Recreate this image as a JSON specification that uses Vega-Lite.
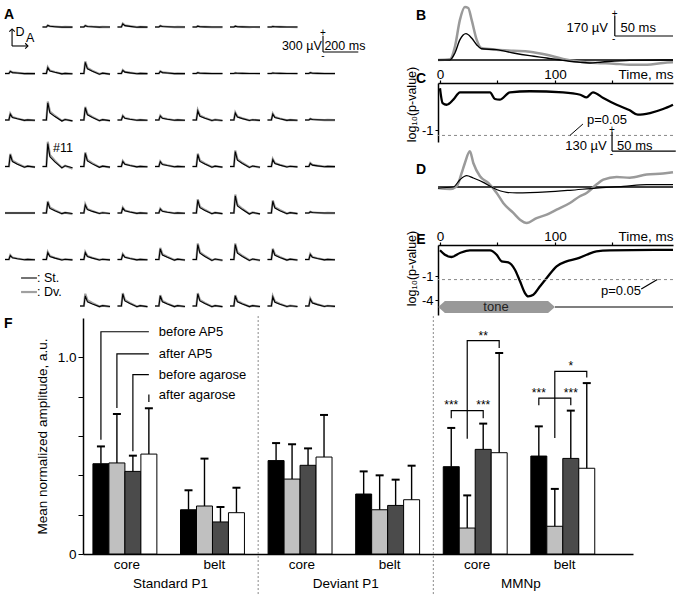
{
"$schema": "https://vega.github.io/schema/vega-lite/v6.json",
"padding": {"left": 0, "top": 2, "right": 0, "bottom": 0},
"config": {
  "font": "Liberation Sans",
  "view": {"stroke": null},
  "axis": {"domainColor": "#000", "tickColor": "#000", "labelColor": "#000", "titleColor": "#000", "grid": false, "titleFontWeight": "normal"},
  "text": {"font": "Liberation Sans", "color": "#000"}
},
"datasets": {
  "a": [
    {"k":"tr","s":"St","r":1,"c":2,"t":[0,22,30,42,70,110,128,170],"v":[0,0,30,13,6,-2,1,-2]},
    {"k":"tr","s":"St","r":1,"c":3,"t":[0,22,30,42,70,110,128,170],"v":[0,0,25,10,5,-2,1,-1]},
    {"k":"tr","s":"St","r":1,"c":4,"t":[0,22,30,42,70,110,128,170],"v":[0,0,60,25,12,-4,2,-3]},
    {"k":"tr","s":"St","r":1,"c":5,"t":[0,22,30,42,70,110,128,170],"v":[0,0,20,8,4,-1,1,-1]},
    {"k":"tr","s":"St","r":1,"c":6,"t":[0,22,30,42,70,110,128,170],"v":[0,0,15,6,3,-1,0,-1]},
    {"k":"tr","s":"St","r":1,"c":7,"t":[0,22,30,42,70,110,128,170],"v":[0,0,15,6,3,-1,0,-1]},
    {"k":"tr","s":"St","r":1,"c":8,"t":[0,22,30,42,70,110,128,170],"v":[0,0,10,4,2,-1,0,0]},
    {"k":"tr","s":"St","r":2,"c":1,"t":[0,22,30,42,70,110,128,170],"v":[0,0,40,17,8,-2,1,-2]},
    {"k":"tr","s":"St","r":2,"c":2,"t":[0,22,30,42,70,110,128,170],"v":[0,0,110,46,22,-7,3,-6]},
    {"k":"tr","s":"St","r":2,"c":3,"t":[0,22,30,42,70,110,128,170],"v":[0,0,210,88,42,-13,6,-11]},
    {"k":"tr","s":"St","r":2,"c":4,"t":[0,22,30,42,70,110,128,170],"v":[0,0,60,25,12,-4,2,-3]},
    {"k":"tr","s":"St","r":2,"c":5,"t":[0,22,30,42,70,110,128,170],"v":[0,0,40,17,8,-2,1,-2]},
    {"k":"tr","s":"St","r":2,"c":6,"t":[0,22,30,42,70,110,128,170],"v":[0,0,15,6,3,-1,0,-1]},
    {"k":"tr","s":"St","r":2,"c":7,"t":[0,22,30,42,70,110,128,170],"v":[0,0,10,4,2,-1,0,0]},
    {"k":"tr","s":"St","r":2,"c":8,"t":[0,22,30,42,70,110,128,170],"v":[0,0,10,4,2,-1,0,0]},
    {"k":"tr","s":"St","r":2,"c":9,"t":[0,22,30,42,70,110,128,170],"v":[0,0,15,6,3,-1,0,-1]},
    {"k":"tr","s":"St","r":3,"c":1,"t":[0,22,30,42,70,110,128,170],"v":[0,0,110,46,22,-7,3,-6]},
    {"k":"tr","s":"St","r":3,"c":2,"t":[0,22,30,42,70,110,128,170],"v":[0,0,320,134,64,-19,10,-16]},
    {"k":"tr","s":"St","r":3,"c":3,"t":[0,22,30,42,70,110,128,170],"v":[0,0,230,97,46,-14,7,-12]},
    {"k":"tr","s":"St","r":3,"c":4,"t":[0,22,30,42,70,110,128,170],"v":[0,0,75,32,15,-5,2,-4]},
    {"k":"tr","s":"St","r":3,"c":5,"t":[0,22,30,42,70,110,128,170],"v":[0,0,75,32,15,-5,2,-4]},
    {"k":"tr","s":"St","r":3,"c":6,"t":[0,22,30,42,70,110,128,170],"v":[0,0,170,71,34,-10,5,-9]},
    {"k":"tr","s":"St","r":3,"c":7,"t":[0,22,30,42,70,110,128,170],"v":[0,0,130,55,26,-8,4,-7]},
    {"k":"tr","s":"St","r":3,"c":8,"t":[0,22,30,42,70,110,128,170],"v":[0,0,110,46,22,-7,3,-6]},
    {"k":"tr","s":"St","r":3,"c":9,"t":[0,22,30,42,70,110,128,170],"v":[0,0,20,8,4,-1,1,-1]},
    {"k":"tr","s":"St","r":4,"c":1,"t":[0,22,30,42,70,110,128,170],"v":[0,0,220,92,44,-13,7,-11]},
    {"k":"tr","s":"St","r":4,"c":2,"t":[0,22,30,42,70,110,128,170],"v":[0,0,430,181,86,-26,13,-22]},
    {"k":"tr","s":"St","r":4,"c":3,"t":[0,22,30,42,70,110,128,170],"v":[0,0,245,103,49,-15,7,-12]},
    {"k":"tr","s":"St","r":4,"c":4,"t":[0,22,30,42,70,110,128,170],"v":[0,0,95,40,19,-6,3,-5]},
    {"k":"tr","s":"St","r":4,"c":5,"t":[0,22,30,42,70,110,128,170],"v":[0,0,90,38,18,-5,3,-5]},
    {"k":"tr","s":"St","r":4,"c":6,"t":[0,22,30,42,70,110,128,170],"v":[0,0,225,95,45,-14,7,-11]},
    {"k":"tr","s":"St","r":4,"c":7,"t":[0,22,30,42,70,110,128,170],"v":[0,0,280,118,56,-17,8,-14]},
    {"k":"tr","s":"St","r":4,"c":8,"t":[0,22,30,42,70,110,128,170],"v":[0,0,130,55,26,-8,4,-7]},
    {"k":"tr","s":"St","r":4,"c":9,"t":[0,22,30,42,70,110,128,170],"v":[0,0,60,25,12,-4,2,-3]},
    {"k":"tr","s":"St","r":5,"c":1,"t":[0,22,30,42,70,110,128,170],"v":[0,0,0,0,0,0,0,0]},
    {"k":"tr","s":"St","r":5,"c":2,"t":[0,22,30,42,70,110,128,170],"v":[0,0,205,86,41,-12,6,-10]},
    {"k":"tr","s":"St","r":5,"c":3,"t":[0,22,30,42,70,110,128,170],"v":[0,0,150,63,30,-9,5,-8]},
    {"k":"tr","s":"St","r":5,"c":4,"t":[0,22,30,42,70,110,128,170],"v":[0,0,95,40,19,-6,3,-5]},
    {"k":"tr","s":"St","r":5,"c":5,"t":[0,22,30,42,70,110,128,170],"v":[0,0,75,32,15,-5,2,-4]},
    {"k":"tr","s":"St","r":5,"c":6,"t":[0,22,30,42,70,110,128,170],"v":[0,0,240,101,48,-14,7,-12]},
    {"k":"tr","s":"St","r":5,"c":7,"t":[0,22,30,42,70,110,128,170],"v":[0,0,320,134,64,-19,10,-16]},
    {"k":"tr","s":"St","r":5,"c":8,"t":[0,22,30,42,70,110,128,170],"v":[0,0,220,92,44,-13,7,-11]},
    {"k":"tr","s":"St","r":5,"c":9,"t":[0,22,30,42,70,110,128,170],"v":[0,0,20,8,4,-1,1,-1]},
    {"k":"tr","s":"St","r":6,"c":1,"t":[0,22,30,42,70,110,128,170],"v":[0,0,75,32,15,-5,2,-4]},
    {"k":"tr","s":"St","r":6,"c":2,"t":[0,22,30,42,70,110,128,170],"v":[0,0,130,55,26,-8,4,-7]},
    {"k":"tr","s":"St","r":6,"c":3,"t":[0,22,30,42,70,110,128,170],"v":[0,0,130,55,26,-8,4,-7]},
    {"k":"tr","s":"St","r":6,"c":4,"t":[0,22,30,42,70,110,128,170],"v":[0,0,95,40,19,-6,3,-5]},
    {"k":"tr","s":"St","r":6,"c":5,"t":[0,22,30,42,70,110,128,170],"v":[0,0,200,84,40,-12,6,-10]},
    {"k":"tr","s":"St","r":6,"c":6,"t":[0,22,30,42,70,110,128,170],"v":[0,0,280,118,56,-17,8,-14]},
    {"k":"tr","s":"St","r":6,"c":7,"t":[0,22,30,42,70,110,128,170],"v":[0,0,280,118,56,-17,8,-14]},
    {"k":"tr","s":"St","r":6,"c":8,"t":[0,22,30,42,70,110,128,170],"v":[0,0,190,80,38,-11,6,-10]},
    {"k":"tr","s":"St","r":6,"c":9,"t":[0,22,30,42,70,110,128,170],"v":[0,0,95,40,19,-6,3,-5]},
    {"k":"tr","s":"St","r":7,"c":3,"t":[0,22,30,42,70,110,128,170],"v":[0,0,190,80,38,-11,6,-10]},
    {"k":"tr","s":"St","r":7,"c":4,"t":[0,22,30,42,70,110,128,170],"v":[0,0,225,95,45,-14,7,-11]},
    {"k":"tr","s":"St","r":7,"c":5,"t":[0,22,30,42,70,110,128,170],"v":[0,0,190,80,38,-11,6,-10]},
    {"k":"tr","s":"St","r":7,"c":6,"t":[0,22,30,42,70,110,128,170],"v":[0,0,225,95,45,-14,7,-11]},
    {"k":"tr","s":"St","r":7,"c":7,"t":[0,22,30,42,70,110,128,170],"v":[0,0,190,80,38,-11,6,-10]},
    {"k":"tr","s":"St","r":7,"c":8,"t":[0,22,30,42,70,110,128,170],"v":[0,0,170,71,34,-10,5,-9]},
    {"k":"tr","s":"St","r":7,"c":9,"t":[0,22,30,42,70,110,128,170],"v":[0,0,130,55,26,-8,4,-7]},
    {"k":"tr","s":"Dv","r":1,"c":2,"t":[0,22,30,42,70,110,128,170],"v":[0,0,32,15,8,-2,1,-2]},
    {"k":"tr","s":"Dv","r":1,"c":3,"t":[0,22,30,42,70,110,128,170],"v":[0,0,27,13,6,-1,1,-2]},
    {"k":"tr","s":"Dv","r":1,"c":4,"t":[0,22,30,42,70,110,128,170],"v":[0,0,65,30,15,-3,2,-4]},
    {"k":"tr","s":"Dv","r":1,"c":5,"t":[0,22,30,42,70,110,128,170],"v":[0,0,22,10,5,-1,1,-1]},
    {"k":"tr","s":"Dv","r":1,"c":6,"t":[0,22,30,42,70,110,128,170],"v":[0,0,16,8,4,-1,0,-1]},
    {"k":"tr","s":"Dv","r":1,"c":7,"t":[0,22,30,42,70,110,128,170],"v":[0,0,16,8,4,-1,0,-1]},
    {"k":"tr","s":"Dv","r":1,"c":8,"t":[0,22,30,42,70,110,128,170],"v":[0,0,11,5,3,0,0,-1]},
    {"k":"tr","s":"Dv","r":2,"c":1,"t":[0,22,30,42,70,110,128,170],"v":[0,0,43,20,10,-2,1,-2]},
    {"k":"tr","s":"Dv","r":2,"c":2,"t":[0,22,30,42,70,110,128,170],"v":[0,0,119,55,28,-6,3,-7]},
    {"k":"tr","s":"Dv","r":2,"c":3,"t":[0,22,30,42,70,110,128,170],"v":[0,0,227,105,53,-11,6,-13]},
    {"k":"tr","s":"Dv","r":2,"c":4,"t":[0,22,30,42,70,110,128,170],"v":[0,0,65,30,15,-3,2,-4]},
    {"k":"tr","s":"Dv","r":2,"c":5,"t":[0,22,30,42,70,110,128,170],"v":[0,0,43,20,10,-2,1,-2]},
    {"k":"tr","s":"Dv","r":2,"c":6,"t":[0,22,30,42,70,110,128,170],"v":[0,0,16,8,4,-1,0,-1]},
    {"k":"tr","s":"Dv","r":2,"c":7,"t":[0,22,30,42,70,110,128,170],"v":[0,0,11,5,3,0,0,-1]},
    {"k":"tr","s":"Dv","r":2,"c":8,"t":[0,22,30,42,70,110,128,170],"v":[0,0,11,5,3,0,0,-1]},
    {"k":"tr","s":"Dv","r":2,"c":9,"t":[0,22,30,42,70,110,128,170],"v":[0,0,16,8,4,-1,0,-1]},
    {"k":"tr","s":"Dv","r":3,"c":1,"t":[0,22,30,42,70,110,128,170],"v":[0,0,119,55,28,-6,3,-7]},
    {"k":"tr","s":"Dv","r":3,"c":2,"t":[0,22,30,42,70,110,128,170],"v":[0,0,346,160,80,-16,10,-19]},
    {"k":"tr","s":"Dv","r":3,"c":3,"t":[0,22,30,42,70,110,128,170],"v":[0,0,248,115,58,-12,7,-14]},
    {"k":"tr","s":"Dv","r":3,"c":4,"t":[0,22,30,42,70,110,128,170],"v":[0,0,81,38,19,-4,2,-5]},
    {"k":"tr","s":"Dv","r":3,"c":5,"t":[0,22,30,42,70,110,128,170],"v":[0,0,81,38,19,-4,2,-5]},
    {"k":"tr","s":"Dv","r":3,"c":6,"t":[0,22,30,42,70,110,128,170],"v":[0,0,184,85,43,-9,5,-10]},
    {"k":"tr","s":"Dv","r":3,"c":7,"t":[0,22,30,42,70,110,128,170],"v":[0,0,140,65,33,-7,4,-8]},
    {"k":"tr","s":"Dv","r":3,"c":8,"t":[0,22,30,42,70,110,128,170],"v":[0,0,119,55,28,-6,3,-7]},
    {"k":"tr","s":"Dv","r":3,"c":9,"t":[0,22,30,42,70,110,128,170],"v":[0,0,22,10,5,-1,1,-1]},
    {"k":"tr","s":"Dv","r":4,"c":1,"t":[0,22,30,42,70,110,128,170],"v":[0,0,238,110,55,-11,7,-13]},
    {"k":"tr","s":"Dv","r":4,"c":2,"t":[0,22,30,42,70,110,128,170],"v":[0,0,464,215,108,-22,13,-40]},
    {"k":"tr","s":"Dv","r":4,"c":3,"t":[0,22,30,42,70,110,128,170],"v":[0,0,265,123,61,-12,7,-15]},
    {"k":"tr","s":"Dv","r":4,"c":4,"t":[0,22,30,42,70,110,128,170],"v":[0,0,103,48,24,-5,3,-6]},
    {"k":"tr","s":"Dv","r":4,"c":5,"t":[0,22,30,42,70,110,128,170],"v":[0,0,97,45,23,-5,3,-5]},
    {"k":"tr","s":"Dv","r":4,"c":6,"t":[0,22,30,42,70,110,128,170],"v":[0,0,243,113,56,-11,7,-14]},
    {"k":"tr","s":"Dv","r":4,"c":7,"t":[0,22,30,42,70,110,128,170],"v":[0,0,302,140,70,-14,8,-17]},
    {"k":"tr","s":"Dv","r":4,"c":8,"t":[0,22,30,42,70,110,128,170],"v":[0,0,140,65,33,-7,4,-8]},
    {"k":"tr","s":"Dv","r":4,"c":9,"t":[0,22,30,42,70,110,128,170],"v":[0,0,65,30,15,-3,2,-4]},
    {"k":"tr","s":"Dv","r":5,"c":1,"t":[0,22,30,42,70,110,128,170],"v":[0,0,0,0,0,0,0,0]},
    {"k":"tr","s":"Dv","r":5,"c":2,"t":[0,22,30,42,70,110,128,170],"v":[0,0,221,103,51,-10,6,-20]},
    {"k":"tr","s":"Dv","r":5,"c":3,"t":[0,22,30,42,70,110,128,170],"v":[0,0,162,75,38,-8,5,-9]},
    {"k":"tr","s":"Dv","r":5,"c":4,"t":[0,22,30,42,70,110,128,170],"v":[0,0,103,48,24,-5,3,-6]},
    {"k":"tr","s":"Dv","r":5,"c":5,"t":[0,22,30,42,70,110,128,170],"v":[0,0,81,38,19,-4,2,-5]},
    {"k":"tr","s":"Dv","r":5,"c":6,"t":[0,22,30,42,70,110,128,170],"v":[0,0,259,120,60,-12,7,-14]},
    {"k":"tr","s":"Dv","r":5,"c":7,"t":[0,22,30,42,70,110,128,170],"v":[0,0,346,160,80,-16,10,-19]},
    {"k":"tr","s":"Dv","r":5,"c":8,"t":[0,22,30,42,70,110,128,170],"v":[0,0,238,110,55,-11,7,-13]},
    {"k":"tr","s":"Dv","r":5,"c":9,"t":[0,22,30,42,70,110,128,170],"v":[0,0,22,10,5,-1,1,-1]},
    {"k":"tr","s":"Dv","r":6,"c":1,"t":[0,22,30,42,70,110,128,170],"v":[0,0,81,38,19,-4,2,-5]},
    {"k":"tr","s":"Dv","r":6,"c":2,"t":[0,22,30,42,70,110,128,170],"v":[0,0,140,65,33,-7,4,-8]},
    {"k":"tr","s":"Dv","r":6,"c":3,"t":[0,22,30,42,70,110,128,170],"v":[0,0,140,65,33,-7,4,-8]},
    {"k":"tr","s":"Dv","r":6,"c":4,"t":[0,22,30,42,70,110,128,170],"v":[0,0,103,48,24,-5,3,-6]},
    {"k":"tr","s":"Dv","r":6,"c":5,"t":[0,22,30,42,70,110,128,170],"v":[0,0,216,100,50,-10,6,-12]},
    {"k":"tr","s":"Dv","r":6,"c":6,"t":[0,22,30,42,70,110,128,170],"v":[0,0,302,140,70,-14,8,-17]},
    {"k":"tr","s":"Dv","r":6,"c":7,"t":[0,22,30,42,70,110,128,170],"v":[0,0,302,140,70,-14,8,-17]},
    {"k":"tr","s":"Dv","r":6,"c":8,"t":[0,22,30,42,70,110,128,170],"v":[0,0,205,95,48,-10,6,-11]},
    {"k":"tr","s":"Dv","r":6,"c":9,"t":[0,22,30,42,70,110,128,170],"v":[0,0,103,48,24,-5,3,-6]},
    {"k":"tr","s":"Dv","r":7,"c":3,"t":[0,22,30,42,70,110,128,170],"v":[0,0,230,110,55,-10,6,-11]},
    {"k":"tr","s":"Dv","r":7,"c":4,"t":[0,22,30,42,70,110,128,170],"v":[0,0,243,113,56,-11,7,-14]},
    {"k":"tr","s":"Dv","r":7,"c":5,"t":[0,22,30,42,70,110,128,170],"v":[0,0,205,95,48,-10,6,-11]},
    {"k":"tr","s":"Dv","r":7,"c":6,"t":[0,22,30,42,70,110,128,170],"v":[0,0,243,113,56,-11,7,-14]},
    {"k":"tr","s":"Dv","r":7,"c":7,"t":[0,22,30,42,70,110,128,170],"v":[0,0,205,95,48,-10,6,-11]},
    {"k":"tr","s":"Dv","r":7,"c":8,"t":[0,22,30,42,70,110,128,170],"v":[0,0,184,85,43,-9,5,-10]},
    {"k":"tr","s":"Dv","r":7,"c":9,"t":[0,22,30,42,70,110,128,170],"v":[0,0,140,65,33,-7,4,-8]},
    {"k":"let","r":1,"c":1,"t":-5.7,"v":234,"label":"A"},
    {"k":"seg","r":1,"c":1,"t":40,"v":-356,"t2":40,"v2":-37},
    {"k":"seg","r":1,"c":1,"t":40,"v":-356,"t2":130,"v2":-356},
    {"k":"hup","r":1,"c":1,"t":40,"v":-37},
    {"k":"hrt","r":1,"c":1,"t":130,"v":-356},
    {"k":"txtc","r":1,"c":1,"t":85,"v":-103,"label":"D"},
    {"k":"txtc","r":1,"c":1,"t":142,"v":-197,"label":"A"},
    {"k":"seg","r":1,"c":9,"t":102,"v":-163,"t2":102,"v2":-469},
    {"k":"seg","r":1,"c":9,"t":102,"v":-469,"t2":302,"v2":-469},
    {"k":"txtr","r":1,"c":9,"t":95,"v":-356,"label":"300 µV"},
    {"k":"txt","r":1,"c":9,"t":110,"v":-356,"label":"200 ms"},
    {"k":"txts","r":1,"c":9,"t":102,"v":-110,"label":"+"},
    {"k":"txts","r":1,"c":9,"t":102,"v":-540,"label":"-"},
    {"k":"txt","r":4,"c":2,"t":60,"v":356,"label":"#11"},
    {"k":"seg","r":7,"c":1,"t":91,"v":525,"t2":181,"v2":525},
    {"k":"segg","r":7,"c":1,"t":91,"v":262,"t2":181,"v2":262},
    {"k":"txt","r":7,"c":1,"t":181,"v":525,"label":": St."},
    {"k":"txt","r":7,"c":1,"t":181,"v":262,"label":": Dv."}
  ],
  "b": [
    {"k":"tr","s":"St","t":-1.7,"v":0},{"k":"tr","s":"St","t":8.7,"v":0},{"k":"tr","s":"St","t":13,"v":60},{"k":"tr","s":"St","t":17.4,"v":173},{"k":"tr","s":"St","t":22.6,"v":224},{"k":"tr","s":"St","t":27.5,"v":187},{"k":"tr","s":"St","t":31.9,"v":130},{"k":"tr","s":"St","t":36,"v":96},{"k":"tr","s":"St","t":49,"v":88},{"k":"tr","s":"St","t":63.8,"v":60},{"k":"tr","s":"St","t":78,"v":37},{"k":"tr","s":"St","t":92.8,"v":17},{"k":"tr","s":"St","t":107,"v":-3},{"k":"tr","s":"St","t":122,"v":-20},{"k":"tr","s":"St","t":130,"v":-25},{"k":"tr","s":"St","t":141,"v":-17},{"k":"tr","s":"St","t":165,"v":-3},{"k":"tr","s":"St","t":194,"v":0},{"k":"tr","s":"St","t":202.6,"v":0},
    {"k":"tr","s":"Dv","t":-1.7,"v":0},{"k":"tr","s":"Dv","t":8.7,"v":6},{"k":"tr","s":"Dv","t":13,"v":113},{"k":"tr","s":"Dv","t":17.4,"v":343},{"k":"tr","s":"Dv","t":21.7,"v":450},{"k":"tr","s":"Dv","t":24.6,"v":442},{"k":"tr","s":"Dv","t":27.5,"v":343},{"k":"tr","s":"Dv","t":31.9,"v":173},{"k":"tr","s":"Dv","t":36,"v":102},{"k":"tr","s":"Dv","t":49,"v":88},{"k":"tr","s":"Dv","t":63.8,"v":79},{"k":"tr","s":"Dv","t":78,"v":71},{"k":"tr","s":"Dv","t":92.8,"v":45},{"k":"tr","s":"Dv","t":107,"v":9},{"k":"tr","s":"Dv","t":122,"v":-14},{"k":"tr","s":"Dv","t":136,"v":-25},{"k":"tr","s":"Dv","t":151,"v":-31},{"k":"tr","s":"Dv","t":165,"v":-40},{"k":"tr","s":"Dv","t":180,"v":-40},{"k":"tr","s":"Dv","t":194,"v":-25},{"k":"tr","s":"Dv","t":202.6,"v":-20},
    {"k":"base","v":0},
    {"k":"seg","t":152,"v":204,"t2":152,"v2":374},
    {"k":"seg","t":152,"v":204,"t2":202.6,"v2":204},
    {"k":"txtr","t":146,"v":272,"label":"170 µV"},
    {"k":"txt","t":157,"v":272,"label":"50 ms"},
    {"k":"txts","t":152,"v":395,"label":"+"},
    {"k":"txts","t":151,"v":180,"label":"-"},
    {"k":"let","t":-16.5,"v":374,"label":"B"}
  ],
  "c": [
    {"k":"p","t":0,"v":-0.005},{"k":"p","t":2.3,"v":-0.127},{"k":"p","t":5.8,"v":-0.155},{"k":"p","t":11.6,"v":-0.082},{"k":"p","t":17.4,"v":-0.02},{"k":"p","t":43.5,"v":-0.02},{"k":"p","t":47.8,"v":-0.074},{"k":"p","t":52,"v":-0.082},{"k":"p","t":60.9,"v":-0.02},{"k":"p","t":78,"v":-0.015},{"k":"p","t":107,"v":-0.02},{"k":"p","t":122,"v":-0.035},{"k":"p","t":127.5,"v":-0.057},{"k":"p","t":133,"v":-0.02},{"k":"p","t":142,"v":-0.063},{"k":"p","t":153.6,"v":-0.155},{"k":"p","t":165,"v":-0.27},{"k":"p","t":172,"v":-0.386},{"k":"p","t":182.6,"v":-0.338},{"k":"p","t":194,"v":-0.24},{"k":"p","t":202.6,"v":-0.155},
    {"k":"thr","v":-1.301},
    {"k":"seg","t":113,"v":-1.301,"t2":124.3,"v2":-0.719},
    {"k":"txt","t":127.8,"v":-0.561,"label":"p=0.05"},
    {"k":"let","t":-16.5,"v":0.003,"label":"C"}
  ],
  "d": [
    {"k":"tr","s":"St","t":-1.7,"v":-7},{"k":"tr","s":"St","t":11.6,"v":0},{"k":"tr","s":"St","t":17.4,"v":49},{"k":"tr","s":"St","t":23.2,"v":76},{"k":"tr","s":"St","t":29,"v":60},{"k":"tr","s":"St","t":37.7,"v":31},{"k":"tr","s":"St","t":46.4,"v":-7},{"k":"tr","s":"St","t":58,"v":-36},{"k":"tr","s":"St","t":66.7,"v":-40},{"k":"tr","s":"St","t":92.8,"v":-33},{"k":"tr","s":"St","t":113,"v":-22},{"k":"tr","s":"St","t":136,"v":-7},{"k":"tr","s":"St","t":159.4,"v":4},{"k":"tr","s":"St","t":179.7,"v":16},{"k":"tr","s":"St","t":202.6,"v":16},
    {"k":"tr","s":"Dv","t":-1.7,"v":-7},{"k":"tr","s":"Dv","t":8.7,"v":-13},{"k":"tr","s":"Dv","t":14.5,"v":4},{"k":"tr","s":"Dv","t":18.9,"v":94},{"k":"tr","s":"Dv","t":21.7,"v":161},{"k":"tr","s":"Dv","t":26,"v":239},{"k":"tr","s":"Dv","t":29,"v":161},{"k":"tr","s":"Dv","t":34.8,"v":72},{"k":"tr","s":"Dv","t":42,"v":27},{"k":"tr","s":"Dv","t":49.3,"v":-40},{"k":"tr","s":"Dv","t":55,"v":-107},{"k":"tr","s":"Dv","t":63.8,"v":-174},{"k":"tr","s":"Dv","t":69.6,"v":-219},{"k":"tr","s":"Dv","t":75.4,"v":-241},{"k":"tr","s":"Dv","t":84,"v":-208},{"k":"tr","s":"Dv","t":92.8,"v":-185},{"k":"tr","s":"Dv","t":101.4,"v":-152},{"k":"tr","s":"Dv","t":113,"v":-107},{"k":"tr","s":"Dv","t":121.7,"v":-62},{"k":"tr","s":"Dv","t":127.5,"v":-40},{"k":"tr","s":"Dv","t":136,"v":16},{"k":"tr","s":"Dv","t":142,"v":49},{"k":"tr","s":"Dv","t":153.6,"v":67},{"k":"tr","s":"Dv","t":165,"v":62},{"k":"tr","s":"Dv","t":179.7,"v":83},{"k":"tr","s":"Dv","t":194,"v":90},{"k":"tr","s":"Dv","t":202.6,"v":99},
    {"k":"base","v":0},
    {"k":"seg","t":149.6,"v":241,"t2":149.6,"v2":368.5},
    {"k":"seg","t":149.6,"v":241,"t2":205,"v2":241},
    {"k":"txtr","t":145,"v":273,"label":"130 µV"},
    {"k":"txt","t":154,"v":273,"label":"50 ms"},
    {"k":"txts","t":149.6,"v":385,"label":"+"},
    {"k":"txts","t":149,"v":218,"label":"-"},
    {"k":"let","t":-16.5,"v":114,"label":"D"}
  ],
  "e": [
    {"k":"p","t":0,"v":-0.014},{"k":"p","t":4.3,"v":-0.061},{"k":"p","t":10,"v":-0.101},{"k":"p","t":17.4,"v":-0.038},{"k":"p","t":26,"v":-0.014},{"k":"p","t":43.5,"v":-0.015},{"k":"p","t":49.3,"v":-0.061},{"k":"p","t":53.6,"v":-0.212},{"k":"p","t":59.4,"v":-0.245},{"k":"p","t":65.2,"v":-0.577},{"k":"p","t":69.6,"v":-1.464},{"k":"p","t":73.9,"v":-2.871},{"k":"p","t":76.8,"v":-3.378},{"k":"p","t":81.2,"v":-3.125},{"k":"p","t":87,"v":-1.997},{"k":"p","t":92.8,"v":-1.163},{"k":"p","t":101.4,"v":-0.404},{"k":"p","t":110,"v":-0.212},{"k":"p","t":119,"v":-0.139},{"k":"p","t":127.5,"v":-0.061},{"k":"p","t":136,"v":-0.021},{"k":"p","t":147.8,"v":-0.014},{"k":"p","t":202.6,"v":-0.011},
    {"k":"thr","v":-1.301},
    {"k":"tone","t":-1.5,"v":-5.33,"v2":-5.33},{"k":"tone","t":4.3,"v":-4.17,"v2":-6.66},{"k":"tone","t":94,"v":-4.17,"v2":-6.66},{"k":"tone","t":100,"v":-5.33,"v2":-5.33},
    {"k":"seg","t":100,"v":-5.33,"t2":202.6,"v2":-5.33},
    {"k":"lead","t":175,"v":-2.33,"t2":189,"v2":-1.301},
    {"k":"txtr","t":174.8,"v":-2.59,"label":"p=0.05"},
    {"k":"txtc","t":48.7,"v":-5.33,"label":"tone"},
    {"k":"let","t":-16.5,"v":0.012,"label":"E"}
  ],
  "f": [
    {"g":"Standard P1/core","c":"before AP5","m":0.459,"hi":0.547},
    {"g":"Standard P1/core","c":"after AP5","m":0.463,"hi":0.712},
    {"g":"Standard P1/core","c":"before agarose","m":0.42,"hi":0.5},
    {"g":"Standard P1/core","c":"after agarose","m":0.508,"hi":0.741},
    {"g":"Standard P1/belt","c":"before AP5","m":0.225,"hi":0.324},
    {"g":"Standard P1/belt","c":"after AP5","m":0.244,"hi":0.485},
    {"g":"Standard P1/belt","c":"before agarose","m":0.163,"hi":0.239},
    {"g":"Standard P1/belt","c":"after agarose","m":0.21,"hi":0.337},
    {"g":"Deviant P1/core","c":"before AP5","m":0.475,"hi":0.564},
    {"g":"Deviant P1/core","c":"after AP5","m":0.381,"hi":0.558},
    {"g":"Deviant P1/core","c":"before agarose","m":0.451,"hi":0.537},
    {"g":"Deviant P1/core","c":"after agarose","m":0.493,"hi":0.707},
    {"g":"Deviant P1/belt","c":"before AP5","m":0.305,"hi":0.42},
    {"g":"Deviant P1/belt","c":"after AP5","m":0.225,"hi":0.4},
    {"g":"Deviant P1/belt","c":"before agarose","m":0.247,"hi":0.378},
    {"g":"Deviant P1/belt","c":"after agarose","m":0.276,"hi":0.449},
    {"g":"MMNp/core","c":"before AP5","m":0.444,"hi":0.641},
    {"g":"MMNp/core","c":"after AP5","m":0.132,"hi":0.298},
    {"g":"MMNp/core","c":"before agarose","m":0.532,"hi":0.663},
    {"g":"MMNp/core","c":"after agarose","m":0.515,"hi":1.022},
    {"g":"MMNp/belt","c":"before AP5","m":0.498,"hi":0.649},
    {"g":"MMNp/belt","c":"after AP5","m":0.141,"hi":0.331},
    {"g":"MMNp/belt","c":"before agarose","m":0.486,"hi":0.729},
    {"g":"MMNp/belt","c":"after agarose","m":0.436,"hi":0.869}
  ],
  "fl": [
    {"id":"L1","o":1,"g":"Standard P1/core","c":"before AP5","y":0.581},
    {"id":"L1","o":2,"g":"Standard P1/core","c":"before AP5","y":1.13},
    {"id":"L1","o":3,"g":"Standard P1/core","c":"after agarose","y":1.13},
    {"id":"L2","o":1,"g":"Standard P1/core","c":"after AP5","y":0.742},
    {"id":"L2","o":2,"g":"Standard P1/core","c":"after AP5","y":1.018},
    {"id":"L2","o":3,"g":"Standard P1/core","c":"after agarose","y":1.018},
    {"id":"L3","o":1,"g":"Standard P1/core","c":"before agarose","y":0.522},
    {"id":"L3","o":2,"g":"Standard P1/core","c":"before agarose","y":0.912},
    {"id":"L3","o":3,"g":"Standard P1/core","c":"after agarose","y":0.912},
    {"id":"L4","o":1,"g":"Standard P1/core","c":"after agarose","y":0.773},
    {"id":"L4","o":2,"g":"Standard P1/core","c":"after agarose","y":0.811},
    {"id":"B1","o":1,"g":"MMNp/core","c":"before AP5","y":0.69},
    {"id":"B1","o":2,"g":"MMNp/core","c":"before AP5","y":0.729},
    {"id":"B1","o":3,"g":"MMNp/core","c":"before agarose","y":0.729},
    {"id":"B1","o":4,"g":"MMNp/core","c":"before agarose","y":0.69},
    {"id":"B2","o":1,"g":"MMNp/core","c":"after AP5","y":0.586},
    {"id":"B2","o":2,"g":"MMNp/core","c":"after AP5","y":1.085},
    {"id":"B2","o":3,"g":"MMNp/core","c":"after agarose","y":1.085},
    {"id":"B2","o":4,"g":"MMNp/core","c":"after agarose","y":1.047},
    {"id":"B3","o":1,"g":"MMNp/belt","c":"before AP5","y":0.756},
    {"id":"B3","o":2,"g":"MMNp/belt","c":"before AP5","y":0.793},
    {"id":"B3","o":3,"g":"MMNp/belt","c":"before agarose","y":0.793},
    {"id":"B3","o":4,"g":"MMNp/belt","c":"before agarose","y":0.756},
    {"id":"B4","o":1,"g":"MMNp/belt","c":"after AP5","y":0.59},
    {"id":"B4","o":2,"g":"MMNp/belt","c":"after AP5","y":0.929},
    {"id":"B4","o":3,"g":"MMNp/belt","c":"after agarose","y":0.929},
    {"id":"B4","o":4,"g":"MMNp/belt","c":"after agarose","y":0.898}
  ],
  "ft": [
    {"k":"lead","g":"Standard P1/core","c":"after agarose","y":1.13,"label":"before AP5"},
    {"k":"lead","g":"Standard P1/core","c":"after agarose","y":1.018,"label":"after AP5"},
    {"k":"lead","g":"Standard P1/core","c":"after agarose","y":0.912,"label":"before agarose"},
    {"k":"lead","g":"Standard P1/core","c":"after agarose","y":0.811,"label":"after agarose"},
    {"k":"st0","g":"MMNp/core","c":"before AP5","y":0.735,"label":"***"},
    {"k":"st0","g":"MMNp/core","c":"before agarose","y":0.735,"label":"***"},
    {"k":"st0","g":"MMNp/belt","c":"before AP5","y":0.798,"label":"***"},
    {"k":"st0","g":"MMNp/belt","c":"before agarose","y":0.798,"label":"***"},
    {"k":"st1","g":"MMNp/core","c":"after AP5","y":1.09,"label":"**"},
    {"k":"st1","g":"MMNp/belt","c":"after AP5","y":0.934,"label":"*"},
    {"k":"sup","g":"Standard P1/belt","label":"Standard P1"},
    {"k":"sup","g":"Deviant P1/belt","label":"Deviant P1"},
    {"k":"sup","g":"MMNp/belt","label":"MMNp"},
    {"k":"sep","g":"Standard P1/belt"},
    {"k":"sep","g":"Deviant P1/belt"},
    {"k":"let","g":"Standard P1/core","label":"F"}
  ]
},
"vconcat": [
  {
    "hconcat": [
      {
        "data": {"name": "a"},
        "facet": {
          "row": {"field": "r", "type": "ordinal", "header": null},
          "column": {"field": "c", "type": "ordinal", "header": null}
        },
        "spacing": {"row": 22.5, "column": 7.5},
        "bounds": "flush",
        "spec": {
          "width": 30,
          "height": 24,
          "layer": [
            {
              "transform": [{"filter": "datum.k == 'tr' && datum.s == 'Dv'"}, {"flatten": ["t","v"]}],
              "mark": {"type": "line", "color": "#a0a0a0", "strokeWidth": 2.2},
              "encoding": {
                "x": {"field": "t", "type": "quantitative", "scale": {"domain": [0,170], "nice": false}, "axis": null},
                "y": {"field": "v", "type": "quantitative", "scale": {"domain": [-150,300], "nice": false}, "axis": null}
              }
            },
            {
              "transform": [{"filter": "datum.k == 'tr' && datum.s == 'St'"}, {"flatten": ["t","v"]}],
              "mark": {"type": "line", "color": "#000", "strokeWidth": 1.1},
              "encoding": {
                "x": {"field": "t", "type": "quantitative", "scale": {"domain": [0,170], "nice": false}, "axis": null},
                "y": {"field": "v", "type": "quantitative", "scale": {"domain": [-150,300], "nice": false}, "axis": null}
              }
            },
            {
              "transform": [{"filter": "datum.k == 'seg'"}],
              "mark": {"type": "rule", "color": "#000", "strokeWidth": 1.1},
              "encoding": {
                "x": {"field": "t", "type": "quantitative", "scale": {"domain": [0,170], "nice": false}, "axis": null},
                "x2": {"field": "t2"},
                "y": {"field": "v", "type": "quantitative", "scale": {"domain": [-150,300], "nice": false}, "axis": null},
                "y2": {"field": "v2"}
              }
            },
            {
              "transform": [{"filter": "datum.k == 'segg'"}],
              "mark": {"type": "rule", "color": "#a0a0a0", "strokeWidth": 2.2},
              "encoding": {
                "x": {"field": "t", "type": "quantitative", "scale": {"domain": [0,170], "nice": false}, "axis": null},
                "x2": {"field": "t2"},
                "y": {"field": "v", "type": "quantitative", "scale": {"domain": [-150,300], "nice": false}, "axis": null},
                "y2": {"field": "v2"}
              }
            },
            {
              "transform": [{"filter": "datum.k == 'hup'"}],
              "mark": {"type": "point", "shape": "M-1,1L0,0L1,1", "filled": false, "stroke": "#000", "strokeWidth": 1.1, "size": 30, "opacity": 1},
              "encoding": {
                "x": {"field": "t", "type": "quantitative", "scale": {"domain": [0,170], "nice": false}, "axis": null},
                "y": {"field": "v", "type": "quantitative", "scale": {"domain": [-150,300], "nice": false}, "axis": null}
              }
            },
            {
              "transform": [{"filter": "datum.k == 'hrt'"}],
              "mark": {"type": "point", "shape": "M-1,-1L0,0L-1,1", "filled": false, "stroke": "#000", "strokeWidth": 1.1, "size": 30, "opacity": 1},
              "encoding": {
                "x": {"field": "t", "type": "quantitative", "scale": {"domain": [0,170], "nice": false}, "axis": null},
                "y": {"field": "v", "type": "quantitative", "scale": {"domain": [-150,300], "nice": false}, "axis": null}
              }
            },
            {
              "transform": [{"filter": "datum.k == 'txt'"}],
              "mark": {"type": "text", "align": "left", "baseline": "middle", "fontSize": 12.5},
              "encoding": {
                "x": {"field": "t", "type": "quantitative", "scale": {"domain": [0,170], "nice": false}, "axis": null},
                "y": {"field": "v", "type": "quantitative", "scale": {"domain": [-150,300], "nice": false}, "axis": null},
                "text": {"field": "label"}
              }
            },
            {
              "transform": [{"filter": "datum.k == 'txtr'"}],
              "mark": {"type": "text", "align": "right", "baseline": "middle", "fontSize": 12.5},
              "encoding": {
                "x": {"field": "t", "type": "quantitative", "scale": {"domain": [0,170], "nice": false}, "axis": null},
                "y": {"field": "v", "type": "quantitative", "scale": {"domain": [-150,300], "nice": false}, "axis": null},
                "text": {"field": "label"}
              }
            },
            {
              "transform": [{"filter": "datum.k == 'txtc'"}],
              "mark": {"type": "text", "align": "center", "baseline": "middle", "fontSize": 12.5},
              "encoding": {
                "x": {"field": "t", "type": "quantitative", "scale": {"domain": [0,170], "nice": false}, "axis": null},
                "y": {"field": "v", "type": "quantitative", "scale": {"domain": [-150,300], "nice": false}, "axis": null},
                "text": {"field": "label"}
              }
            },
            {
              "transform": [{"filter": "datum.k == 'txts'"}],
              "mark": {"type": "text", "align": "center", "baseline": "middle", "fontSize": 10},
              "encoding": {
                "x": {"field": "t", "type": "quantitative", "scale": {"domain": [0,170], "nice": false}, "axis": null},
                "y": {"field": "v", "type": "quantitative", "scale": {"domain": [-150,300], "nice": false}, "axis": null},
                "text": {"field": "label"}
              }
            },
            {
              "transform": [{"filter": "datum.k == 'let'"}],
              "mark": {"type": "text", "align": "left", "baseline": "middle", "fontSize": 14, "fontWeight": "bold"},
              "encoding": {
                "x": {"field": "t", "type": "quantitative", "scale": {"domain": [0,170], "nice": false}, "axis": null},
                "y": {"field": "v", "type": "quantitative", "scale": {"domain": [-150,300], "nice": false}, "axis": null},
                "text": {"field": "label"}
              }
            }
          ]
        }
      },
      {
        "vconcat": [
          {
            "data": {"name": "b"},
            "width": 235,
            "height": 58,
            "layer": [
              {"transform": [{"filter": "datum.k == 'base'"}], "mark": {"type": "rule", "color": "#000", "strokeWidth": 1.4},
               "encoding": {"y": {"field": "v", "type": "quantitative", "scale": {"domain": [-76.5,416.5], "nice": false}, "axis": null}}},
              {"transform": [{"filter": "datum.k == 'tr' && datum.s == 'Dv'"}], "mark": {"type": "line", "color": "#9a9a9a", "strokeWidth": 2.5, "interpolate": "monotone"},
               "encoding": {"x": {"field": "t", "type": "quantitative", "scale": {"domain": [-1.7,202.6], "nice": false}, "axis": null},
                            "y": {"field": "v", "type": "quantitative", "scale": {"domain": [-76.5,416.5], "nice": false}, "axis": null}}},
              {"transform": [{"filter": "datum.k == 'tr' && datum.s == 'St'"}], "mark": {"type": "line", "color": "#000", "strokeWidth": 1.4, "interpolate": "monotone"},
               "encoding": {"x": {"field": "t", "type": "quantitative", "scale": {"domain": [-1.7,202.6], "nice": false}, "axis": null},
                            "y": {"field": "v", "type": "quantitative", "scale": {"domain": [-76.5,416.5], "nice": false}, "axis": null}}},
              {"transform": [{"filter": "datum.k == 'seg'"}], "mark": {"type": "rule", "color": "#000", "strokeWidth": 1.2},
               "encoding": {"x": {"field": "t", "type": "quantitative", "scale": {"domain": [-1.7,202.6], "nice": false}, "axis": null}, "x2": {"field": "t2"},
                            "y": {"field": "v", "type": "quantitative", "scale": {"domain": [-76.5,416.5], "nice": false}, "axis": null}, "y2": {"field": "v2"}}},
              {"transform": [{"filter": "datum.k == 'txtr'"}], "mark": {"type": "text", "align": "right", "baseline": "middle", "fontSize": 13},
               "encoding": {"x": {"field": "t", "type": "quantitative", "scale": {"domain": [-1.7,202.6], "nice": false}, "axis": null},
                            "y": {"field": "v", "type": "quantitative", "scale": {"domain": [-76.5,416.5], "nice": false}, "axis": null}, "text": {"field": "label"}}},
              {"transform": [{"filter": "datum.k == 'txt'"}], "mark": {"type": "text", "align": "left", "baseline": "middle", "fontSize": 13},
               "encoding": {"x": {"field": "t", "type": "quantitative", "scale": {"domain": [-1.7,202.6], "nice": false}, "axis": null},
                            "y": {"field": "v", "type": "quantitative", "scale": {"domain": [-76.5,416.5], "nice": false}, "axis": null}, "text": {"field": "label"}}},
              {"transform": [{"filter": "datum.k == 'txts'"}], "mark": {"type": "text", "align": "center", "baseline": "middle", "fontSize": 10},
               "encoding": {"x": {"field": "t", "type": "quantitative", "scale": {"domain": [-1.7,202.6], "nice": false}, "axis": null},
                            "y": {"field": "v", "type": "quantitative", "scale": {"domain": [-76.5,416.5], "nice": false}, "axis": null}, "text": {"field": "label"}}},
              {"transform": [{"filter": "datum.k == 'let'"}], "mark": {"type": "text", "align": "center", "baseline": "middle", "fontSize": 14, "fontWeight": "bold"},
               "encoding": {"x": {"field": "t", "type": "quantitative", "scale": {"domain": [-1.7,202.6], "nice": false}, "axis": null},
                            "y": {"field": "v", "type": "quantitative", "scale": {"domain": [-76.5,416.5], "nice": false}, "axis": null}, "text": {"field": "label"}}}
            ]
          },
          {
            "data": {"name": "c"},
            "width": 235,
            "height": 59,
            "layer": [
              {"transform": [{"filter": "datum.k == 'p'"}], "mark": {"type": "line", "color": "#000", "strokeWidth": 2.3, "interpolate": "monotone"},
               "encoding": {
                 "x": {"field": "t", "type": "quantitative", "scale": {"domain": [-1.7,202.6], "nice": false},
                       "axis": {"orient": "top", "values": [0,50,100,150], "labelExpr": "datum.value == 0 ? '0' : (datum.value == 100 ? '100' : '')", "tickSize": 3, "labelPadding": 2, "labelBaseline": "alphabetic", "labelFontSize": 13.5, "domainWidth": 1.5, "tickWidth": 1.2, "labelFlush": false, "title": "Time, ms", "titleFontSize": 13.5, "titleAnchor": "end", "titleAlign": "right", "titleBaseline": "alphabetic", "titleY": -5}},
                 "y": {"field": "v", "type": "quantitative", "scale": {"type": "pow", "exponent": 0.414, "domain": [-1.73,0], "nice": false},
                       "axis": {"values": [-1], "labelExpr": "'-1'", "tickSize": 3, "labelPadding": 2, "labelFontSize": 13, "domainWidth": 1.5, "title": "log₁₀(p-value)", "titleFontSize": 12.5, "titlePadding": 3, "titleY": 21}}}},
              {"transform": [{"filter": "datum.k == 'thr'"}], "mark": {"type": "rule", "color": "#888", "strokeWidth": 1, "strokeDash": [3,3]},
               "encoding": {"y": {"field": "v", "type": "quantitative", "scale": {"type": "pow", "exponent": 0.414, "domain": [-1.73,0], "nice": false},
                       "axis": {"values": [-1], "labelExpr": "'-1'", "tickSize": 3, "labelPadding": 2, "labelFontSize": 13, "domainWidth": 1.5, "title": "log₁₀(p-value)", "titleFontSize": 12.5, "titlePadding": 3, "titleY": 21}}}},
              {"transform": [{"filter": "datum.k == 'seg'"}], "mark": {"type": "rule", "color": "#000", "strokeWidth": 1},
               "encoding": {
                 "x": {"field": "t", "type": "quantitative", "scale": {"domain": [-1.7,202.6], "nice": false},
                       "axis": {"orient": "top", "values": [0,50,100,150], "labelExpr": "datum.value == 0 ? '0' : (datum.value == 100 ? '100' : '')", "tickSize": 3, "labelPadding": 2, "labelBaseline": "alphabetic", "labelFontSize": 13.5, "domainWidth": 1.5, "tickWidth": 1.2, "labelFlush": false, "title": "Time, ms", "titleFontSize": 13.5, "titleAnchor": "end", "titleAlign": "right", "titleBaseline": "alphabetic", "titleY": -5}},
                 "x2": {"field": "t2"},
                 "y": {"field": "v", "type": "quantitative", "scale": {"type": "pow", "exponent": 0.414, "domain": [-1.73,0], "nice": false},
                       "axis": {"values": [-1], "labelExpr": "'-1'", "tickSize": 3, "labelPadding": 2, "labelFontSize": 13, "domainWidth": 1.5, "title": "log₁₀(p-value)", "titleFontSize": 12.5, "titlePadding": 3, "titleY": 21}},
                 "y2": {"field": "v2"}}},
              {"transform": [{"filter": "datum.k == 'txt'"}], "mark": {"type": "text", "align": "left", "baseline": "middle", "fontSize": 13},
               "encoding": {
                 "x": {"field": "t", "type": "quantitative", "scale": {"domain": [-1.7,202.6], "nice": false},
                       "axis": {"orient": "top", "values": [0,50,100,150], "labelExpr": "datum.value == 0 ? '0' : (datum.value == 100 ? '100' : '')", "tickSize": 3, "labelPadding": 2, "labelBaseline": "alphabetic", "labelFontSize": 13.5, "domainWidth": 1.5, "tickWidth": 1.2, "labelFlush": false, "title": "Time, ms", "titleFontSize": 13.5, "titleAnchor": "end", "titleAlign": "right", "titleBaseline": "alphabetic", "titleY": -5}},
                 "y": {"field": "v", "type": "quantitative", "scale": {"type": "pow", "exponent": 0.414, "domain": [-1.73,0], "nice": false},
                       "axis": {"values": [-1], "labelExpr": "'-1'", "tickSize": 3, "labelPadding": 2, "labelFontSize": 13, "domainWidth": 1.5, "title": "log₁₀(p-value)", "titleFontSize": 12.5, "titlePadding": 3, "titleY": 21}},
                 "text": {"field": "label"}}},
              {"transform": [{"filter": "datum.k == 'let'"}], "mark": {"type": "text", "align": "center", "baseline": "middle", "fontSize": 14, "fontWeight": "bold"},
               "encoding": {
                 "x": {"field": "t", "type": "quantitative", "scale": {"domain": [-1.7,202.6], "nice": false},
                       "axis": {"orient": "top", "values": [0,50,100,150], "labelExpr": "datum.value == 0 ? '0' : (datum.value == 100 ? '100' : '')", "tickSize": 3, "labelPadding": 2, "labelBaseline": "alphabetic", "labelFontSize": 13.5, "domainWidth": 1.5, "tickWidth": 1.2, "labelFlush": false, "title": "Time, ms", "titleFontSize": 13.5, "titleAnchor": "end", "titleAlign": "right", "titleBaseline": "alphabetic", "titleY": -5}},
                 "y": {"field": "v", "type": "quantitative", "scale": {"type": "pow", "exponent": 0.414, "domain": [-1.73,0], "nice": false},
                       "axis": {"values": [-1], "labelExpr": "'-1'", "tickSize": 3, "labelPadding": 2, "labelFontSize": 13, "domainWidth": 1.5, "title": "log₁₀(p-value)", "titleFontSize": 12.5, "titlePadding": 3, "titleY": 21}},
                 "text": {"field": "label"}}}
            ]
          },
          {
            "data": {"name": "d"},
            "width": 235,
            "height": 75,
            "layer": [
              {"transform": [{"filter": "datum.k == 'base'"}], "mark": {"type": "rule", "color": "#000", "strokeWidth": 1.4},
               "encoding": {"y": {"field": "v", "type": "quantitative", "scale": {"domain": [-294.8,207.7], "nice": false}, "axis": null}}},
              {"transform": [{"filter": "datum.k == 'tr' && datum.s == 'Dv'"}], "mark": {"type": "line", "color": "#9a9a9a", "strokeWidth": 2.5, "interpolate": "monotone"},
               "encoding": {"x": {"field": "t", "type": "quantitative", "scale": {"domain": [-1.7,202.6], "nice": false}, "axis": null},
                            "y": {"field": "v", "type": "quantitative", "scale": {"domain": [-294.8,207.7], "nice": false}, "axis": null}}},
              {"transform": [{"filter": "datum.k == 'tr' && datum.s == 'St'"}], "mark": {"type": "line", "color": "#000", "strokeWidth": 1.2, "interpolate": "monotone"},
               "encoding": {"x": {"field": "t", "type": "quantitative", "scale": {"domain": [-1.7,202.6], "nice": false}, "axis": null},
                            "y": {"field": "v", "type": "quantitative", "scale": {"domain": [-294.8,207.7], "nice": false}, "axis": null}}},
              {"transform": [{"filter": "datum.k == 'seg'"}], "mark": {"type": "rule", "color": "#000", "strokeWidth": 1.2},
               "encoding": {"x": {"field": "t", "type": "quantitative", "scale": {"domain": [-1.7,202.6], "nice": false}, "axis": null}, "x2": {"field": "t2"},
                            "y": {"field": "v", "type": "quantitative", "scale": {"domain": [-294.8,207.7], "nice": false}, "axis": null}, "y2": {"field": "v2"}}},
              {"transform": [{"filter": "datum.k == 'txtr'"}], "mark": {"type": "text", "align": "right", "baseline": "middle", "fontSize": 13},
               "encoding": {"x": {"field": "t", "type": "quantitative", "scale": {"domain": [-1.7,202.6], "nice": false}, "axis": null},
                            "y": {"field": "v", "type": "quantitative", "scale": {"domain": [-294.8,207.7], "nice": false}, "axis": null}, "text": {"field": "label"}}},
              {"transform": [{"filter": "datum.k == 'txt'"}], "mark": {"type": "text", "align": "left", "baseline": "middle", "fontSize": 13},
               "encoding": {"x": {"field": "t", "type": "quantitative", "scale": {"domain": [-1.7,202.6], "nice": false}, "axis": null},
                            "y": {"field": "v", "type": "quantitative", "scale": {"domain": [-294.8,207.7], "nice": false}, "axis": null}, "text": {"field": "label"}}},
              {"transform": [{"filter": "datum.k == 'txts'"}], "mark": {"type": "text", "align": "center", "baseline": "middle", "fontSize": 10},
               "encoding": {"x": {"field": "t", "type": "quantitative", "scale": {"domain": [-1.7,202.6], "nice": false}, "axis": null},
                            "y": {"field": "v", "type": "quantitative", "scale": {"domain": [-294.8,207.7], "nice": false}, "axis": null}, "text": {"field": "label"}}},
              {"transform": [{"filter": "datum.k == 'let'"}], "mark": {"type": "text", "align": "center", "baseline": "middle", "fontSize": 14, "fontWeight": "bold"},
               "encoding": {"x": {"field": "t", "type": "quantitative", "scale": {"domain": [-1.7,202.6], "nice": false}, "axis": null},
                            "y": {"field": "v", "type": "quantitative", "scale": {"domain": [-294.8,207.7], "nice": false}, "axis": null}, "text": {"field": "label"}}}
            ]
          },
          {
            "data": {"name": "e"},
            "width": 235,
            "height": 70,
            "layer": [
              {"transform": [{"filter": "datum.k == 'p'"}], "mark": {"type": "line", "color": "#000", "strokeWidth": 2.3, "interpolate": "monotone"},
               "encoding": {
                 "x": {"field": "t", "type": "quantitative", "scale": {"domain": [-1.7,202.6], "nice": false},
                       "axis": {"orient": "top", "values": [0,50,100,150], "labelExpr": "datum.value == 0 ? '0' : (datum.value == 100 ? '100' : '')", "tickSize": 3, "labelPadding": 2, "labelBaseline": "alphabetic", "labelFontSize": 13.5, "domainWidth": 1.5, "tickWidth": 1.2, "labelFlush": false, "title": "Time, ms", "titleFontSize": 13.5, "titleAnchor": "end", "titleAlign": "right", "titleBaseline": "alphabetic", "titleY": -5}},
                 "y": {"field": "v", "type": "quantitative", "scale": {"type": "pow", "exponent": 0.414, "domain": [-7.14,0], "nice": false},
                       "axis": {"values": [-1,-4], "labelExpr": "datum.value == -1 ? '-1' : '-4'", "tickSize": 3, "labelPadding": 2, "labelFontSize": 13, "domainWidth": 1.5, "title": "log₁₀(p-value)", "titleFontSize": 12.5, "titlePadding": 3, "titleY": 23}}}},
              {"transform": [{"filter": "datum.k == 'thr'"}], "mark": {"type": "rule", "color": "#888", "strokeWidth": 1, "strokeDash": [3,3]},
               "encoding": {"y": {"field": "v", "type": "quantitative", "scale": {"type": "pow", "exponent": 0.414, "domain": [-7.14,0], "nice": false},
                       "axis": {"values": [-1,-4], "labelExpr": "datum.value == -1 ? '-1' : '-4'", "tickSize": 3, "labelPadding": 2, "labelFontSize": 13, "domainWidth": 1.5, "title": "log₁₀(p-value)", "titleFontSize": 12.5, "titlePadding": 3, "titleY": 23}}}},
              {"transform": [{"filter": "datum.k == 'tone'"}], "mark": {"type": "area", "color": "#999", "opacity": 1},
               "encoding": {
                 "x": {"field": "t", "type": "quantitative", "scale": {"domain": [-1.7,202.6], "nice": false},
                       "axis": {"orient": "top", "values": [0,50,100,150], "labelExpr": "datum.value == 0 ? '0' : (datum.value == 100 ? '100' : '')", "tickSize": 3, "labelPadding": 2, "labelBaseline": "alphabetic", "labelFontSize": 13.5, "domainWidth": 1.5, "tickWidth": 1.2, "labelFlush": false, "title": "Time, ms", "titleFontSize": 13.5, "titleAnchor": "end", "titleAlign": "right", "titleBaseline": "alphabetic", "titleY": -5}},
                 "y": {"field": "v", "type": "quantitative", "scale": {"type": "pow", "exponent": 0.414, "domain": [-7.14,0], "nice": false},
                       "axis": {"values": [-1,-4], "labelExpr": "datum.value == -1 ? '-1' : '-4'", "tickSize": 3, "labelPadding": 2, "labelFontSize": 13, "domainWidth": 1.5, "title": "log₁₀(p-value)", "titleFontSize": 12.5, "titlePadding": 3, "titleY": 23}},
                 "y2": {"field": "v2"}}},
              {"transform": [{"filter": "datum.k == 'seg' || datum.k == 'lead'"}], "mark": {"type": "rule", "color": "#000", "strokeWidth": 1.2},
               "encoding": {
                 "x": {"field": "t", "type": "quantitative", "scale": {"domain": [-1.7,202.6], "nice": false},
                       "axis": {"orient": "top", "values": [0,50,100,150], "labelExpr": "datum.value == 0 ? '0' : (datum.value == 100 ? '100' : '')", "tickSize": 3, "labelPadding": 2, "labelBaseline": "alphabetic", "labelFontSize": 13.5, "domainWidth": 1.5, "tickWidth": 1.2, "labelFlush": false, "title": "Time, ms", "titleFontSize": 13.5, "titleAnchor": "end", "titleAlign": "right", "titleBaseline": "alphabetic", "titleY": -5}},
                 "x2": {"field": "t2"},
                 "y": {"field": "v", "type": "quantitative", "scale": {"type": "pow", "exponent": 0.414, "domain": [-7.14,0], "nice": false},
                       "axis": {"values": [-1,-4], "labelExpr": "datum.value == -1 ? '-1' : '-4'", "tickSize": 3, "labelPadding": 2, "labelFontSize": 13, "domainWidth": 1.5, "title": "log₁₀(p-value)", "titleFontSize": 12.5, "titlePadding": 3, "titleY": 23}},
                 "y2": {"field": "v2"}}},
              {"transform": [{"filter": "datum.k == 'txtr'"}], "mark": {"type": "text", "align": "right", "baseline": "middle", "fontSize": 13},
               "encoding": {
                 "x": {"field": "t", "type": "quantitative", "scale": {"domain": [-1.7,202.6], "nice": false},
                       "axis": {"orient": "top", "values": [0,50,100,150], "labelExpr": "datum.value == 0 ? '0' : (datum.value == 100 ? '100' : '')", "tickSize": 3, "labelPadding": 2, "labelBaseline": "alphabetic", "labelFontSize": 13.5, "domainWidth": 1.5, "tickWidth": 1.2, "labelFlush": false, "title": "Time, ms", "titleFontSize": 13.5, "titleAnchor": "end", "titleAlign": "right", "titleBaseline": "alphabetic", "titleY": -5}},
                 "y": {"field": "v", "type": "quantitative", "scale": {"type": "pow", "exponent": 0.414, "domain": [-7.14,0], "nice": false},
                       "axis": {"values": [-1,-4], "labelExpr": "datum.value == -1 ? '-1' : '-4'", "tickSize": 3, "labelPadding": 2, "labelFontSize": 13, "domainWidth": 1.5, "title": "log₁₀(p-value)", "titleFontSize": 12.5, "titlePadding": 3, "titleY": 23}},
                 "text": {"field": "label"}}},
              {"transform": [{"filter": "datum.k == 'txtc'"}], "mark": {"type": "text", "align": "center", "baseline": "middle", "fontSize": 13, "color": "#222"},
               "encoding": {
                 "x": {"field": "t", "type": "quantitative", "scale": {"domain": [-1.7,202.6], "nice": false},
                       "axis": {"orient": "top", "values": [0,50,100,150], "labelExpr": "datum.value == 0 ? '0' : (datum.value == 100 ? '100' : '')", "tickSize": 3, "labelPadding": 2, "labelBaseline": "alphabetic", "labelFontSize": 13.5, "domainWidth": 1.5, "tickWidth": 1.2, "labelFlush": false, "title": "Time, ms", "titleFontSize": 13.5, "titleAnchor": "end", "titleAlign": "right", "titleBaseline": "alphabetic", "titleY": -5}},
                 "y": {"field": "v", "type": "quantitative", "scale": {"type": "pow", "exponent": 0.414, "domain": [-7.14,0], "nice": false},
                       "axis": {"values": [-1,-4], "labelExpr": "datum.value == -1 ? '-1' : '-4'", "tickSize": 3, "labelPadding": 2, "labelFontSize": 13, "domainWidth": 1.5, "title": "log₁₀(p-value)", "titleFontSize": 12.5, "titlePadding": 3, "titleY": 23}},
                 "text": {"field": "label"}}},
              {"transform": [{"filter": "datum.k == 'let'"}], "mark": {"type": "text", "align": "center", "baseline": "middle", "fontSize": 14, "fontWeight": "bold"},
               "encoding": {
                 "x": {"field": "t", "type": "quantitative", "scale": {"domain": [-1.7,202.6], "nice": false},
                       "axis": {"orient": "top", "values": [0,50,100,150], "labelExpr": "datum.value == 0 ? '0' : (datum.value == 100 ? '100' : '')", "tickSize": 3, "labelPadding": 2, "labelBaseline": "alphabetic", "labelFontSize": 13.5, "domainWidth": 1.5, "tickWidth": 1.2, "labelFlush": false, "title": "Time, ms", "titleFontSize": 13.5, "titleAnchor": "end", "titleAlign": "right", "titleBaseline": "alphabetic", "titleY": -5}},
                 "y": {"field": "v", "type": "quantitative", "scale": {"type": "pow", "exponent": 0.414, "domain": [-7.14,0], "nice": false},
                       "axis": {"values": [-1,-4], "labelExpr": "datum.value == -1 ? '-1' : '-4'", "tickSize": 3, "labelPadding": 2, "labelFontSize": 13, "domainWidth": 1.5, "title": "log₁₀(p-value)", "titleFontSize": 12.5, "titlePadding": 3, "titleY": 23}},
                 "text": {"field": "label"}}}
            ]
          }
        ],
        "spacing": 14,
        "bounds": "flush"
      }
    ],
    "spacing": 39,
    "bounds": "full"
  },
  {
    "hconcat": [
      {"width": 78, "height": 236, "data": {"values": []}, "mark": {"type": "point", "opacity": 0}, "encoding": {}},
      {
        "width": 550,
        "height": 236,
        "layer": [
          {"data": {"name": "f"}, "mark": {"type": "bar", "stroke": "#000", "strokeWidth": 1},
           "encoding": {
             "x": {"field": "g", "type": "nominal", "scale": {"domain": ["Standard P1/core","Standard P1/belt","Deviant P1/core","Deviant P1/belt","MMNp/core","MMNp/belt"], "paddingInner": 0, "paddingOuter": 0.14, "align": 0},
                   "axis": {"title": null, "labelExpr": "split(datum.value, '/')[1]", "ticks": false, "labelAngle": 0, "labelFontSize": 13.5, "labelPadding": 3, "domainWidth": 1.5}},
             "xOffset": {"field": "c", "type": "nominal", "scale": {"domain": ["before AP5","after AP5","before agarose","after agarose"], "paddingInner": 0, "paddingOuter": 0.74, "align": 0.42}},
             "y": {"field": "m", "type": "quantitative", "scale": {"domain": [0,1.2], "nice": false},
                   "axis": {"title": "Mean normalized amplitude, a.u.", "values": [0,0.2,0.4,0.6,0.8,1], "labelExpr": "datum.value == 0 ? '0' : (datum.value == 1 ? '1.0' : '')", "tickSize": 5, "labelPadding": 2, "labelFontSize": 13.5, "titleFontSize": 13.5, "titlePadding": 8, "domainWidth": 1.5}},
             "color": {"field": "c", "type": "nominal", "scale": {"domain": ["before AP5","after AP5","before agarose","after agarose"], "range": ["#000000","#c0c0c0","#4b4b4b","#ffffff"]}, "legend": null}
           }},
          {"data": {"name": "f"}, "mark": {"type": "rule", "color": "#000", "strokeWidth": 1.4},
           "encoding": {
             "x": {"field": "g", "type": "nominal", "scale": {"domain": ["Standard P1/core","Standard P1/belt","Deviant P1/core","Deviant P1/belt","MMNp/core","MMNp/belt"], "paddingInner": 0, "paddingOuter": 0.14, "align": 0},
                   "axis": {"title": null, "labelExpr": "split(datum.value, '/')[1]", "ticks": false, "labelAngle": 0, "labelFontSize": 13.5, "labelPadding": 3, "domainWidth": 1.5}},
             "xOffset": {"field": "c", "type": "nominal", "scale": {"domain": ["before AP5","after AP5","before agarose","after agarose"], "paddingInner": 0, "paddingOuter": 0.74, "align": 0.42}},
             "y": {"field": "m", "type": "quantitative", "scale": {"domain": [0,1.2], "nice": false},
                   "axis": {"title": "Mean normalized amplitude, a.u.", "values": [0,0.2,0.4,0.6,0.8,1], "labelExpr": "datum.value == 0 ? '0' : (datum.value == 1 ? '1.0' : '')", "tickSize": 5, "labelPadding": 2, "labelFontSize": 13.5, "titleFontSize": 13.5, "titlePadding": 8, "domainWidth": 1.5}},
             "y2": {"field": "hi"}
           }},
          {"data": {"name": "f"}, "mark": {"type": "tick", "color": "#000", "thickness": 2, "size": 8, "opacity": 1},
           "encoding": {
             "x": {"field": "g", "type": "nominal", "scale": {"domain": ["Standard P1/core","Standard P1/belt","Deviant P1/core","Deviant P1/belt","MMNp/core","MMNp/belt"], "paddingInner": 0, "paddingOuter": 0.14, "align": 0},
                   "axis": {"title": null, "labelExpr": "split(datum.value, '/')[1]", "ticks": false, "labelAngle": 0, "labelFontSize": 13.5, "labelPadding": 3, "domainWidth": 1.5}},
             "xOffset": {"field": "c", "type": "nominal", "scale": {"domain": ["before AP5","after AP5","before agarose","after agarose"], "paddingInner": 0, "paddingOuter": 0.74, "align": 0.42}},
             "y": {"field": "hi", "type": "quantitative", "scale": {"domain": [0,1.2], "nice": false},
                   "axis": {"title": "Mean normalized amplitude, a.u.", "values": [0,0.2,0.4,0.6,0.8,1], "labelExpr": "datum.value == 0 ? '0' : (datum.value == 1 ? '1.0' : '')", "tickSize": 5, "labelPadding": 2, "labelFontSize": 13.5, "titleFontSize": 13.5, "titlePadding": 8, "domainWidth": 1.5}}
           }},
          {"data": {"name": "fl"}, "mark": {"type": "line", "color": "#000", "strokeWidth": 1.2},
           "encoding": {
             "x": {"field": "g", "type": "nominal", "scale": {"domain": ["Standard P1/core","Standard P1/belt","Deviant P1/core","Deviant P1/belt","MMNp/core","MMNp/belt"], "paddingInner": 0, "paddingOuter": 0.14, "align": 0},
                   "axis": {"title": null, "labelExpr": "split(datum.value, '/')[1]", "ticks": false, "labelAngle": 0, "labelFontSize": 13.5, "labelPadding": 3, "domainWidth": 1.5}},
             "xOffset": {"field": "c", "type": "nominal", "scale": {"domain": ["before AP5","after AP5","before agarose","after agarose"], "paddingInner": 0, "paddingOuter": 0.74, "align": 0.42}},
             "y": {"field": "y", "type": "quantitative", "scale": {"domain": [0,1.2], "nice": false},
                   "axis": {"title": "Mean normalized amplitude, a.u.", "values": [0,0.2,0.4,0.6,0.8,1], "labelExpr": "datum.value == 0 ? '0' : (datum.value == 1 ? '1.0' : '')", "tickSize": 5, "labelPadding": 2, "labelFontSize": 13.5, "titleFontSize": 13.5, "titlePadding": 8, "domainWidth": 1.5}},
             "detail": {"field": "id"},
             "order": {"field": "o", "type": "quantitative"}
           }},
          {"data": {"name": "ft"}, "transform": [{"filter": "datum.k == 'lead'"}], "mark": {"type": "text", "align": "left", "baseline": "middle", "fontSize": 13, "dx": 10},
           "encoding": {
             "x": {"field": "g", "type": "nominal", "scale": {"domain": ["Standard P1/core","Standard P1/belt","Deviant P1/core","Deviant P1/belt","MMNp/core","MMNp/belt"], "paddingInner": 0, "paddingOuter": 0.14, "align": 0},
                   "axis": {"title": null, "labelExpr": "split(datum.value, '/')[1]", "ticks": false, "labelAngle": 0, "labelFontSize": 13.5, "labelPadding": 3, "domainWidth": 1.5}},
             "xOffset": {"field": "c", "type": "nominal", "scale": {"domain": ["before AP5","after AP5","before agarose","after agarose"], "paddingInner": 0, "paddingOuter": 0.74, "align": 0.42}},
             "y": {"field": "y", "type": "quantitative", "scale": {"domain": [0,1.2], "nice": false},
                   "axis": {"title": "Mean normalized amplitude, a.u.", "values": [0,0.2,0.4,0.6,0.8,1], "labelExpr": "datum.value == 0 ? '0' : (datum.value == 1 ? '1.0' : '')", "tickSize": 5, "labelPadding": 2, "labelFontSize": 13.5, "titleFontSize": 13.5, "titlePadding": 8, "domainWidth": 1.5}},
             "text": {"field": "label"}
           }},
          {"data": {"name": "ft"}, "transform": [{"filter": "datum.k == 'st0'"}], "mark": {"type": "text", "align": "center", "baseline": "alphabetic", "fontSize": 12},
           "encoding": {
             "x": {"field": "g", "type": "nominal", "scale": {"domain": ["Standard P1/core","Standard P1/belt","Deviant P1/core","Deviant P1/belt","MMNp/core","MMNp/belt"], "paddingInner": 0, "paddingOuter": 0.14, "align": 0},
                   "axis": {"title": null, "labelExpr": "split(datum.value, '/')[1]", "ticks": false, "labelAngle": 0, "labelFontSize": 13.5, "labelPadding": 3, "domainWidth": 1.5}},
             "xOffset": {"field": "c", "type": "nominal", "scale": {"domain": ["before AP5","after AP5","before agarose","after agarose"], "paddingInner": 0, "paddingOuter": 0.74, "align": 0.42}},
             "y": {"field": "y", "type": "quantitative", "scale": {"domain": [0,1.2], "nice": false},
                   "axis": {"title": "Mean normalized amplitude, a.u.", "values": [0,0.2,0.4,0.6,0.8,1], "labelExpr": "datum.value == 0 ? '0' : (datum.value == 1 ? '1.0' : '')", "tickSize": 5, "labelPadding": 2, "labelFontSize": 13.5, "titleFontSize": 13.5, "titlePadding": 8, "domainWidth": 1.5}},
             "text": {"field": "label"}
           }},
          {"data": {"name": "ft"}, "transform": [{"filter": "datum.k == 'st1'"}], "mark": {"type": "text", "align": "center", "baseline": "alphabetic", "fontSize": 12, "dx": 16},
           "encoding": {
             "x": {"field": "g", "type": "nominal", "scale": {"domain": ["Standard P1/core","Standard P1/belt","Deviant P1/core","Deviant P1/belt","MMNp/core","MMNp/belt"], "paddingInner": 0, "paddingOuter": 0.14, "align": 0},
                   "axis": {"title": null, "labelExpr": "split(datum.value, '/')[1]", "ticks": false, "labelAngle": 0, "labelFontSize": 13.5, "labelPadding": 3, "domainWidth": 1.5}},
             "xOffset": {"field": "c", "type": "nominal", "scale": {"domain": ["before AP5","after AP5","before agarose","after agarose"], "paddingInner": 0, "paddingOuter": 0.74, "align": 0.42}},
             "y": {"field": "y", "type": "quantitative", "scale": {"domain": [0,1.2], "nice": false},
                   "axis": {"title": "Mean normalized amplitude, a.u.", "values": [0,0.2,0.4,0.6,0.8,1], "labelExpr": "datum.value == 0 ? '0' : (datum.value == 1 ? '1.0' : '')", "tickSize": 5, "labelPadding": 2, "labelFontSize": 13.5, "titleFontSize": 13.5, "titlePadding": 8, "domainWidth": 1.5}},
             "text": {"field": "label"}
           }},
          {"data": {"name": "ft"}, "transform": [{"filter": "datum.k == 'sep'"}], "mark": {"type": "rule", "color": "#888", "strokeWidth": 1, "strokeDash": [2,2]},
           "encoding": {
             "x": {"field": "g", "type": "nominal", "bandPosition": 1, "scale": {"domain": ["Standard P1/core","Standard P1/belt","Deviant P1/core","Deviant P1/belt","MMNp/core","MMNp/belt"], "paddingInner": 0, "paddingOuter": 0.14, "align": 0},
                   "axis": {"title": null, "labelExpr": "split(datum.value, '/')[1]", "ticks": false, "labelAngle": 0, "labelFontSize": 13.5, "labelPadding": 3, "domainWidth": 1.5}},
             "y": {"datum": 1.21, "type": "quantitative", "scale": {"domain": [0,1.2], "nice": false},
                   "axis": {"title": "Mean normalized amplitude, a.u.", "values": [0,0.2,0.4,0.6,0.8,1], "labelExpr": "datum.value == 0 ? '0' : (datum.value == 1 ? '1.0' : '')", "tickSize": 5, "labelPadding": 2, "labelFontSize": 13.5, "titleFontSize": 13.5, "titlePadding": 8, "domainWidth": 1.5}},
             "y2": {"datum": -0.22}}},
          {"data": {"name": "ft"}, "transform": [{"filter": "datum.k == 'sup'"}], "mark": {"type": "text", "align": "center", "baseline": "middle", "fontSize": 13.5},
           "encoding": {
             "x": {"field": "g", "type": "nominal", "bandPosition": 0, "scale": {"domain": ["Standard P1/core","Standard P1/belt","Deviant P1/core","Deviant P1/belt","MMNp/core","MMNp/belt"], "paddingInner": 0, "paddingOuter": 0.14, "align": 0},
                   "axis": {"title": null, "labelExpr": "split(datum.value, '/')[1]", "ticks": false, "labelAngle": 0, "labelFontSize": 13.5, "labelPadding": 3, "domainWidth": 1.5}},
             "y": {"datum": -0.15, "type": "quantitative", "scale": {"domain": [0,1.2], "nice": false},
                   "axis": {"title": "Mean normalized amplitude, a.u.", "values": [0,0.2,0.4,0.6,0.8,1], "labelExpr": "datum.value == 0 ? '0' : (datum.value == 1 ? '1.0' : '')", "tickSize": 5, "labelPadding": 2, "labelFontSize": 13.5, "titleFontSize": 13.5, "titlePadding": 8, "domainWidth": 1.5}},
             "text": {"field": "label"}
           }},
          {"data": {"name": "ft"}, "transform": [{"filter": "datum.k == 'let'"}], "mark": {"type": "text", "align": "left", "baseline": "middle", "fontSize": 14, "fontWeight": "bold", "dx": -79},
           "encoding": {
             "x": {"field": "g", "type": "nominal", "bandPosition": 0, "scale": {"domain": ["Standard P1/core","Standard P1/belt","Deviant P1/core","Deviant P1/belt","MMNp/core","MMNp/belt"], "paddingInner": 0, "paddingOuter": 0.14, "align": 0},
                   "axis": {"title": null, "labelExpr": "split(datum.value, '/')[1]", "ticks": false, "labelAngle": 0, "labelFontSize": 13.5, "labelPadding": 3, "domainWidth": 1.5}},
             "y": {"datum": 1.17, "type": "quantitative", "scale": {"domain": [0,1.2], "nice": false},
                   "axis": {"title": "Mean normalized amplitude, a.u.", "values": [0,0.2,0.4,0.6,0.8,1], "labelExpr": "datum.value == 0 ? '0' : (datum.value == 1 ? '1.0' : '')", "tickSize": 5, "labelPadding": 2, "labelFontSize": 13.5, "titleFontSize": 13.5, "titlePadding": 8, "domainWidth": 1.5}},
             "text": {"field": "label"}
           }}
        ]
      }
    ],
    "spacing": 0,
    "bounds": "flush"
  }
],
"spacing": 0,
"bounds": "full"
}
